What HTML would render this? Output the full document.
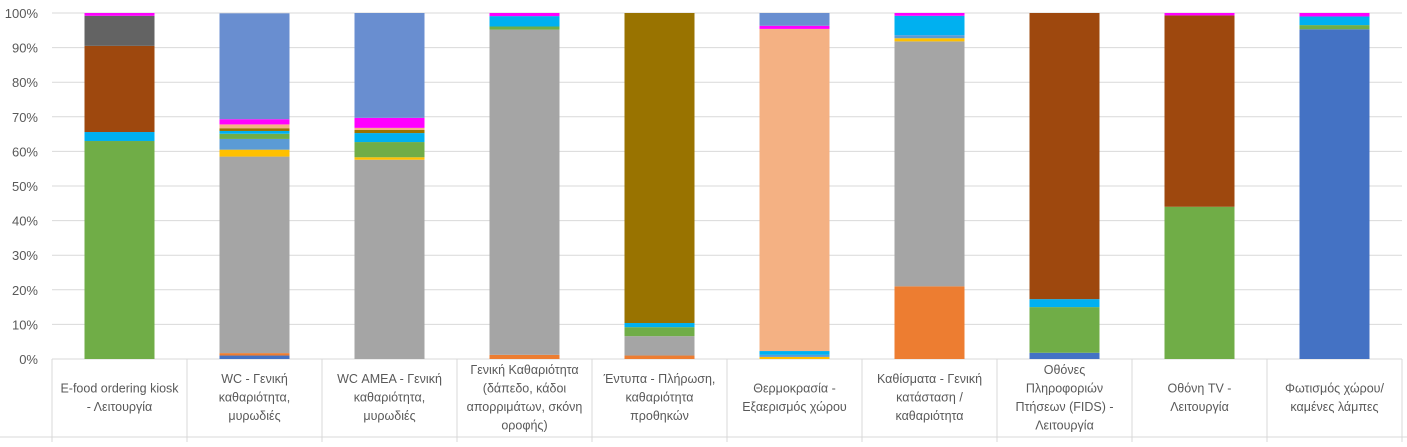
<!DOCTYPE html>
<html><head><meta charset="utf-8"><style>
body{margin:0;background:#fff;}
svg text{font-family:"Liberation Sans","DejaVu Sans",sans-serif;fill:#595959;}
</style></head><body>
<svg id="chart" width="1407" height="442"></svg>
<script>
const categories=[["E-food ordering kiosk","- Λειτουργία"],["WC - Γενική","καθαριότητα,","μυρωδιές"],["WC ΑΜΕΑ - Γενική","καθαριότητα,","μυρωδιές"],["Γενική Καθαριότητα","(δάπεδο, κάδοι","απορριμάτων, σκόνη","οροφής)"],["Έντυπα - Πλήρωση,","καθαριότητα","προθηκών"],["Θερμοκρασία -","Εξαερισμός χώρου"],["Καθίσματα - Γενική","κατάσταση /","καθαριότητα"],["Οθόνες","Πληροφοριών","Πτήσεων (FIDS) -","Λειτουργία"],["Οθόνη TV -","Λειτουργία"],["Φωτισμός χώρου/","καμένες λάμπες"]];
const seriesColors=["#4472C4","#ED7D31","#A5A5A5","#FFC000","#5B9BD5","#70AD47","#00B0F0","#997300","#F4B183","#9E480E","#636363","#FF00FF","#698ED0"];
const sBlue=[0,1,0,0,0,0,0,1.8,0,95.3];
const sOrange=[0,0.7,0,1.2,1,0,21,0,0,0];
const sGray=[0,56.8,57.6,94,5.6,0,70.8,0,0,0];
const sYellow=[0,2,0.7,0,0,0.6,0.9,0,0,0];
const sLightBlue=[0,3.1,0,0,0,0.6,0.9,0,0,0];
const sGreen=[63,1.5,4.4,0.9,2.6,0,0,13.2,44,1.2];
const sCyan=[2.6,0.8,2.6,3,1.2,1.1,5.6,2.3,0,2.5];
const sOlive=[0,0.8,0.9,0,89.6,0,0,0,0,0];
const sPeach=[0,1.1,0.6,0,0,93.1,0,0,0,0];
const sBrown=[24.9,0,0,0,0,0,0,82.7,55.3,0];
const sDkGray=[8.7,0,0,0,0,0,0,0,0,0];
const sMagenta=[0.8,1.5,2.9,0.9,0,0.9,0.8,0,0.7,1];
const sCorn=[0,30.6,30.3,0,0,3.7,0,0,0,0];
const series=[sBlue,sOrange,sGray,sYellow,sLightBlue,sGreen,sCyan,sOlive,sPeach,sBrown,sDkGray,sMagenta,sCorn];
const yTicks=[0,10,20,30,40,50,60,70,80,90,100];

const svg=document.getElementById('chart');
const NS='http://www.w3.org/2000/svg';
const X0=52,X1=1402,Y0=359,Y1=13;
const bw=(X1-X0)/categories.length;
const y=v=>Y0-(Y0-Y1)*v/100;
const xc=i=>X0+bw*(i+0.5);
function mk(t,a){const e=document.createElementNS(NS,t);for(const k in a)e.setAttribute(k,a[k]);svg.appendChild(e);return e;}
yTicks.forEach(t=>{
  const l=mk('line',{x1:X0,x2:X1,y1:y(t),y2:y(t),stroke:'#D9D9D9','stroke-width':1});
  
  
  const tx=mk('text',{x:38,y:y(t)+5,'text-anchor':'end','font-size':13});
  tx.textContent=t+'%';
  
  
});
categories.forEach((c,i)=>{
  let acc=0;
  series.forEach((s,j)=>{
    const v=s[i];if(!v)return;
    const r=mk('rect',{x:xc(i)-35,width:70,y:y(acc+v),height:y(acc)-y(acc+v),fill:seriesColors[j]});
    
    
    acc+=v;
  });
  const d=mk('line',{x1:X0+bw*i,x2:X0+bw*i,y1:Y0,y2:442,stroke:'#D9D9D9'});
  
  
  const n=c.length,lh=18.5,mid=397;
  c.forEach((ln,k)=>{
    const t=mk('text',{x:xc(i),y:mid-(n-1)*lh/2+k*lh+4.5,'text-anchor':'middle','font-size':12.5});
    t.textContent=ln;
    
    
  });
});
const r=mk('line',{x1:X1,x2:X1,y1:Y0,y2:442,stroke:'#D9D9D9'});


const b=mk('line',{x1:0,x2:1407,y1:437,y2:437,stroke:'#D9D9D9'});


</script>
</body></html>
